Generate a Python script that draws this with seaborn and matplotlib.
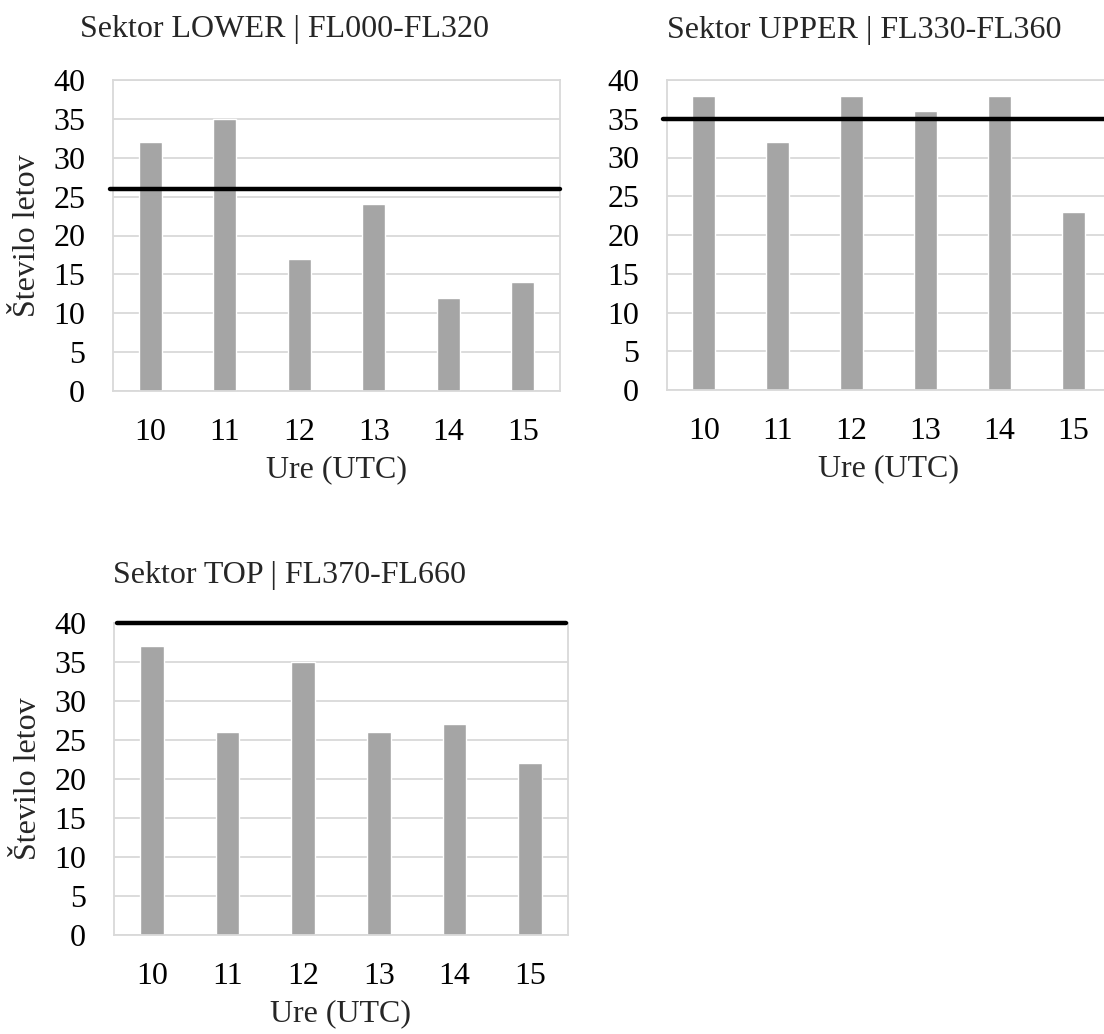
import matplotlib
matplotlib.use("Agg")
import matplotlib.pyplot as plt
import seaborn as sns
import pandas as pd

# Hourly flight counts per sector and the sector capacity
hours = ["10", "11", "12", "13", "14", "15"]
lower_flights = [32, 35, 17, 24, 12, 14]
upper_flights = [38, 32, 38, 36, 38, 23]
top_flights = [37, 26, 35, 26, 27, 22]
lower_capacity = 26
upper_capacity = 35
top_capacity = 40

titles = [
    "Sektor LOWER | FL000-FL320",
    "Sektor UPPER | FL330-FL360",
    "Sektor TOP | FL370-FL660",
]
xlabel = "Ure (UTC)"
ylabel = "Število letov"
yticks = [0, 5, 10, 15, 20, 25, 30, 35, 40]

sns.set_theme(style="white")
plt.rcParams["font.family"] = ["Liberation Serif", "DejaVu Serif"]

W, H = 1104, 1034
FS = 23
BAR = "#A5A5A5"
GRID = "#D9D9D9"

fig = plt.figure(figsize=(W / 100, H / 100), dpi=100)
fig.patch.set_facecolor("white")


def rect(left, top, right, bottom):
    return [left / W, (H - bottom) / H, (right - left) / W, (bottom - top) / H]


panels = [
    # values, capacity, axes box, title x, title baseline, show ylabel, cap-line span
    (lower_flights, lower_capacity, rect(113, 80, 560, 391), 80, 37, True, (-0.006, 1.0)),
    (upper_flights, upper_capacity, rect(667, 80, 1110, 390), 667, 38, False, (-0.009, 1.0)),
    (top_flights, top_capacity, rect(114, 623, 568, 935), 113, 583, True, (0.006, 0.995)),
]

for (vals, cap, box, tx, ty, show_ylab, span), title in zip(panels, titles):
    ax = fig.add_axes(box)
    df = pd.DataFrame({"hour": hours, "flights": vals})
    sns.barplot(data=df, x="hour", y="flights", color=BAR, saturation=1,
                width=0.31, ax=ax, zorder=2)
    ax.set_xlim(-0.5, len(hours) - 0.5)
    ax.set_ylim(0, 40)
    ax.set_yticks(yticks)
    ax.set_axisbelow(True)
    ax.yaxis.grid(True, color=GRID, lw=1.3, zorder=0)
    ax.xaxis.grid(False)
    for s in ax.spines.values():
        s.set_color(GRID)
        s.set_linewidth(1.3)
    ax.tick_params(axis="both", length=0, labelsize=FS, colors="black")
    ax.tick_params(axis="y", pad=20)
    ax.tick_params(axis="x", pad=19.5)
    ax.set_xlabel(xlabel, fontsize=FS, labelpad=6)
    if show_ylab:
        ax.set_ylabel(ylabel, fontsize=FS, labelpad=8)
    else:
        ax.set_ylabel("")
    ax.axhline(cap, xmin=span[0], xmax=span[1], color="black", lw=3.2,
               clip_on=False, zorder=3)
    fig.text(tx / W, 1 - ty / H, title, fontsize=FS, ha="left", va="baseline")

fig.savefig("out.png", dpi=100, facecolor="white")
